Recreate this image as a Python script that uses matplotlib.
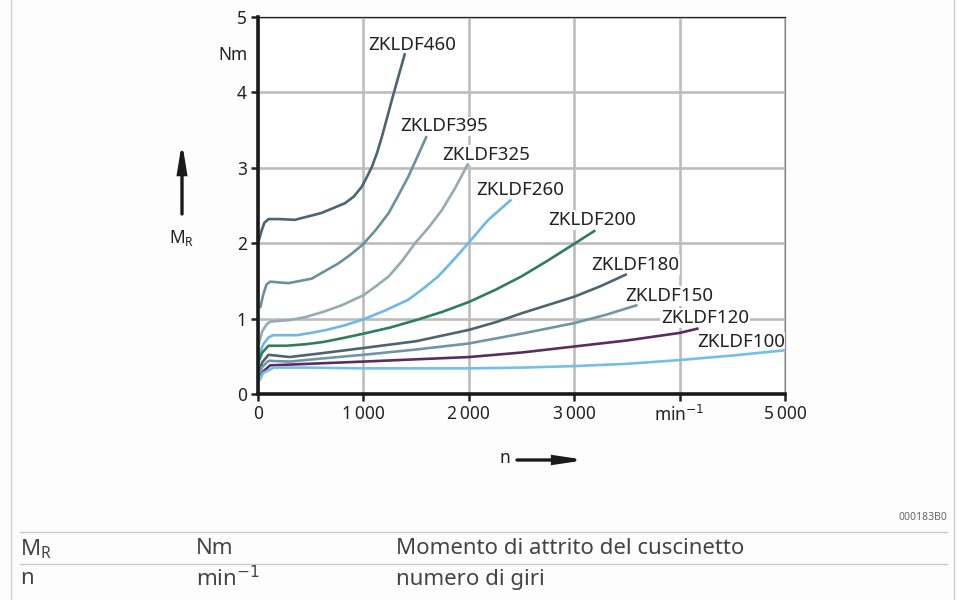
import matplotlib.pyplot as plt
from matplotlib.patches import FancyArrowPatch
from matplotlib.lines import Line2D

plt.rcParams['font.family'] = ['Noto Sans', 'DejaVu Sans']

# speed n [min^-1] and friction torque M_R [Nm]
n_460 = [0, 35, 60, 100, 200, 350, 600, 825, 910, 985, 1030, 1080, 1130, 1175, 1220, 1270, 1330, 1395]
m_460 = [2.0, 2.17, 2.27, 2.32, 2.32, 2.31, 2.40, 2.53, 2.62, 2.75, 2.87, 3.01, 3.20, 3.41, 3.64, 3.90, 4.20, 4.52]
n_395 = [20, 50, 80, 115, 200, 290, 510, 760, 880, 1000, 1120, 1240, 1330, 1425, 1510, 1600]
m_395 = [1.14, 1.32, 1.45, 1.49, 1.48, 1.47, 1.53, 1.73, 1.85, 1.99, 2.18, 2.40, 2.63, 2.88, 3.14, 3.42]
n_325 = [0, 40, 80, 115, 200, 300, 450, 620, 800, 1000, 1120, 1240, 1370, 1490, 1620, 1745, 1870, 1995]
m_325 = [0.63, 0.83, 0.92, 0.96, 0.97, 0.98, 1.02, 1.09, 1.18, 1.31, 1.43, 1.56, 1.77, 2.00, 2.21, 2.44, 2.73, 3.06]
n_260 = [0, 50, 100, 145, 250, 370, 500, 650, 820, 1000, 1210, 1425, 1570, 1710, 1850, 1995, 2185, 2405]
m_260 = [0.49, 0.66, 0.75, 0.78, 0.78, 0.78, 0.81, 0.85, 0.91, 0.99, 1.11, 1.25, 1.40, 1.56, 1.77, 2.00, 2.31, 2.58]
n_200 = [0, 40, 100, 270, 450, 620, 800, 1000, 1250, 1500, 1750, 2000, 2250, 2500, 2750, 3010, 3200]
m_200 = [0.41, 0.55, 0.64, 0.64, 0.66, 0.69, 0.74, 0.80, 0.88, 0.98, 1.09, 1.22, 1.38, 1.56, 1.77, 2.00, 2.17]
n_180 = [0, 40, 100, 300, 600, 1000, 1500, 2000, 2250, 2500, 2750, 3000, 3250, 3500]
m_180 = [0.27, 0.42, 0.52, 0.49, 0.54, 0.61, 0.70, 0.85, 0.95, 1.07, 1.18, 1.29, 1.43, 1.59]
n_150 = [0, 40, 100, 300, 600, 1000, 1500, 2000, 2500, 3000, 3300, 3600]
m_150 = [0.23, 0.36, 0.44, 0.43, 0.47, 0.52, 0.59, 0.67, 0.80, 0.94, 1.05, 1.18]
n_120 = [0, 50, 115, 300, 1000, 1500, 2000, 2500, 3000, 3500, 4000, 4180]
m_120 = [0.16, 0.30, 0.38, 0.39, 0.43, 0.46, 0.49, 0.55, 0.63, 0.71, 0.81, 0.87]
n_100 = [0, 50, 150, 500, 1000, 2000, 2500, 3000, 3500, 4000, 4500, 5000]
m_100 = [0.15, 0.28, 0.35, 0.35, 0.34, 0.34, 0.35, 0.37, 0.40, 0.45, 0.51, 0.58]

names = ['ZKLDF460', 'ZKLDF395', 'ZKLDF325', 'ZKLDF260', 'ZKLDF200',
         'ZKLDF180', 'ZKLDF150', 'ZKLDF120', 'ZKLDF100']
curves = [(n_460, m_460), (n_395, m_395), (n_325, m_325), (n_260, m_260),
          (n_200, m_200), (n_180, m_180), (n_150, m_150), (n_120, m_120),
          (n_100, m_100)]
colors = ['#4a6672', '#6a909e', '#94aab5', '#6db8e6', '#2f7d5b',
          '#4d6573', '#7096a5', '#5b2d5e', '#74bfe9']
# label anchors (left edge, centre) in data units
label_n = [1044, 1347, 1746, 2068, 2751, 3159, 3482, 3824, 4165]
label_m = [4.63, 3.55, 3.17, 2.71, 2.31, 1.71, 1.30, 1.01, 0.69]

x_ticks = [0, 1000, 2000, 3000, 4000, 5000]
x_labels = ['0', '1\u2009000', '2\u2009000', '3\u2009000', 'min$^{-1}$', '5\u2009000']
y_ticks = [0, 1, 2, 3, 4, 5]

fig = plt.figure(figsize=(9.57, 6.0), dpi=100)
fig.patch.set_facecolor('#fdfdfd')
ax = fig.add_axes([258 / 957, 1 - 394 / 600, 527 / 957, 377 / 600])
ax.set_facecolor('white')

for (xs, ys), c in zip(curves, colors):
    ax.plot(xs, ys, color=c, lw=1.9, solid_capstyle='butt', solid_joinstyle='round',
            zorder=3, clip_on=False)
for name, xn, ym in zip(names, label_n, label_m):
    ax.text(xn, ym, name, fontsize=13.5, color='#222222', ha='left', va='center',
            zorder=2.5, bbox=dict(facecolor='white', edgecolor='none', pad=0.5))

ax.set_xlim(0, 5000)
ax.set_ylim(0, 5)
ax.set_xticks(x_ticks)
ax.set_xticklabels(x_labels)
ax.set_yticks(y_ticks)
ax.grid(True, color='#bdbdbd', lw=1.9, zorder=1)
ax.set_axisbelow(True)
ax.tick_params(axis='both', direction='out', length=5, width=1.8,
               labelsize=12.5, colors='#222222', pad=3)
for s in ['left', 'bottom']:
    ax.spines[s].set_linewidth(2.6)
    ax.spines[s].set_color('#1a1a1a')
    ax.spines[s].set_zorder(4)
ax.spines['top'].set_linewidth(0.9)
ax.spines['top'].set_color('#222222')
ax.spines['right'].set_linewidth(0.9)
ax.spines['right'].set_color('#888888')
ax.text(-0.02, 4.5, 'Nm', transform=ax.get_yaxis_transform(), fontsize=12.5,
        color='#222222', ha='right', va='center')

# axis name arrows
fig.patches.append(FancyArrowPatch((182 / 957, 1 - 214 / 600), (182 / 957, 1 - 142 / 600),
                                   transform=fig.transFigure, arrowstyle='-|>,head_length=16,head_width=2.6',
                                   lw=2.4, color='#1a1a1a', mutation_scale=1, shrinkA=0, shrinkB=0,
                                   joinstyle='miter'))
fig.text(182 / 957, 1 - 238 / 600, r'$\mathregular{M_R}$', fontsize=12.5, color='#222222',
         ha='center', va='center')
fig.patches.append(FancyArrowPatch((517 / 957, 1 - 460 / 600), (586 / 957, 1 - 460 / 600),
                                   transform=fig.transFigure, arrowstyle='-|>,head_length=16,head_width=2.4',
                                   lw=2.4, color='#1a1a1a', mutation_scale=1, shrinkA=0, shrinkB=0,
                                   joinstyle='miter'))
fig.text(505 / 957, 1 - 458 / 600, 'n', fontsize=12.5, color='#222222', ha='center', va='center')

# frame and legend table
fig.add_artist(Line2D([11 / 957, 11 / 957], [0, 1], color='#d0d0d0', lw=1))
fig.add_artist(Line2D([954 / 957, 954 / 957], [0, 1], color='#d0d0d0', lw=1))
fig.text(947 / 957, 1 - 517 / 600, '000183B0', fontsize=7.5, color='#666666',
         ha='right', va='center')
for yy in [532, 564]:
    fig.add_artist(Line2D([20 / 957, 947 / 957], [1 - yy / 600, 1 - yy / 600],
                          color='#cccccc', lw=1))
rows = [(r'M$_\mathregular{R}$', 'Nm', 'Momento di attrito del cuscinetto'),
        ('n', 'min$^{-1}$', 'numero di giri')]
for (a, b, c), yy in zip(rows, [549, 579]):
    for txt, xx in zip([a, b, c], [20, 196, 396]):
        fig.text(xx / 957, 1 - yy / 600, txt, fontsize=16, color='#444444',
                 ha='left', va='center')

fig.savefig('out.png', dpi=100, facecolor=fig.get_facecolor())
